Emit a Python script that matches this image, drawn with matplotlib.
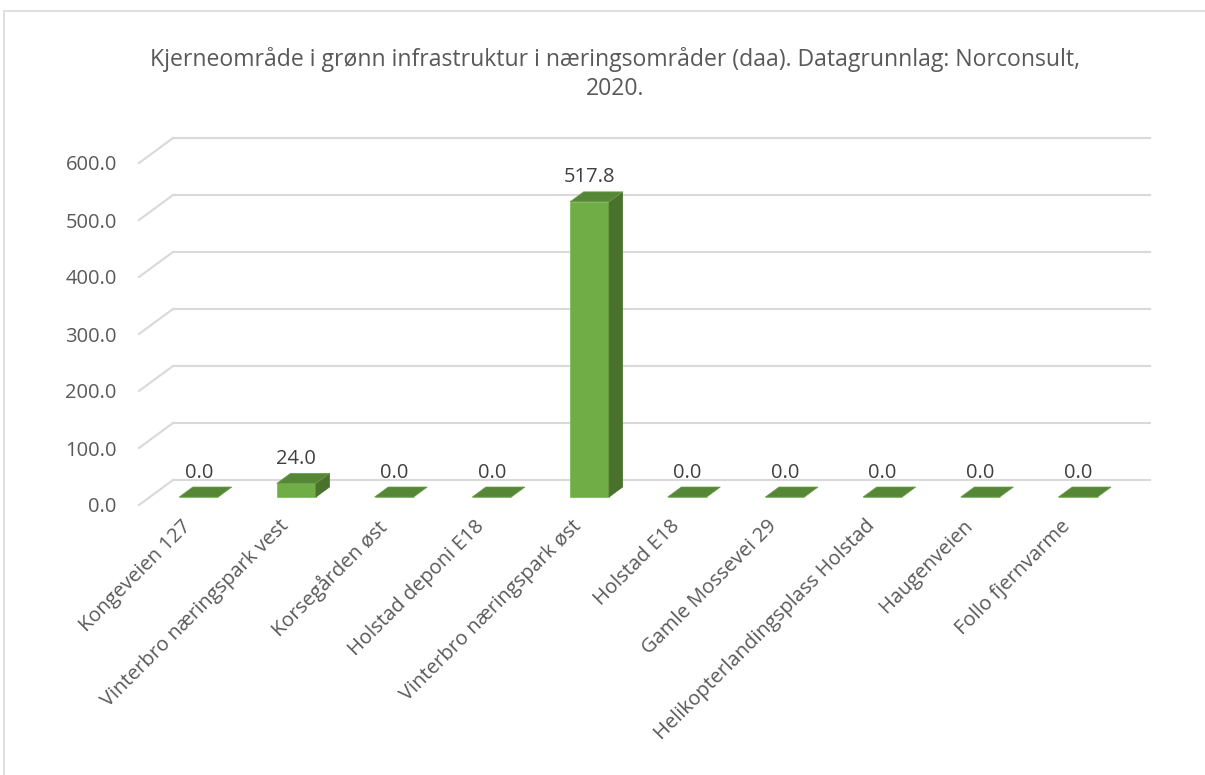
import numpy as np
import matplotlib.pyplot as plt
from matplotlib.patches import Polygon, Rectangle

plt.rcParams['font.family'] = ['Open Sans', 'DejaVu Sans']

categories = ['Kongeveien 127', 'Vinterbro næringspark vest', 'Korsegården øst',
              'Holstad deponi E18', 'Vinterbro næringspark øst', 'Holstad E18',
              'Gamle Mossevei 29', 'Helikopterlandingsplass Holstad', 'Haugenveien',
              'Follo fjernvarme']
values = [0.0, 24.0, 0.0, 0.0, 517.8, 0.0, 0.0, 0.0, 0.0, 0.0]
yticks = [0, 100, 200, 300, 400, 500, 600]
title = 'Kjerneområde i grønn infrastruktur i næringsområder (daa). Datagrunnlag: Norconsult,\n2020.'

W, H = 1205, 775
fig = plt.figure(figsize=(W / 100, H / 100), dpi=100)
# front plane of the 3d box, in pixels
x0, x1, yb, yt = 139, 1116, 505, 163
ax = fig.add_axes([x0 / W, 1 - yb / H, (x1 - x0) / W, (yb - yt) / H])
ax.set_xlim(-0.5, len(values) - 0.5)
ax.set_ylim(0, 600)
for s in ax.spines.values():
    s.set_visible(False)

# depth of the box (full) in data units
DX = 34 / ((x1 - x0) / len(values))
DY = 25 / ((yb - yt) / 600)
d0, d1 = 0.32, 0.72
hw = 0.2

grid = '#D9D9D9'
xl, xr = -0.5, len(values) - 0.5
for t in yticks:
    ax.plot([xl, xl + DX], [t, t + DY], color=grid, lw=1.5, clip_on=False, zorder=1)
    ax.plot([xl + DX, xr + DX], [t + DY, t + DY], color=grid, lw=1.5, clip_on=False, zorder=1)

x = np.arange(len(values))
front = '#70AD47'
side = '#4A722C'
top = '#568737'
ax.bar(x + d0 * DX, values, width=2 * hw, bottom=d0 * DY, color=front,
       edgecolor='#80BC58', linewidth=0.6, zorder=3, clip_on=False)
for i, v in enumerate(values):
    xa = i - hw + d0 * DX
    xb = i + hw + d0 * DX
    xc = i + hw + d1 * DX
    xd = i - hw + d1 * DX
    ya = d0 * DY
    yc = d1 * DY
    if v > 0:
        ax.add_patch(Polygon([(xb, ya), (xc, yc), (xc, yc + v), (xb, ya + v)],
                             closed=True, facecolor=side, edgecolor=side, lw=0.5,
                             zorder=3, clip_on=False))
    ax.add_patch(Polygon([(xa, ya + v), (xb, ya + v), (xc, yc + v), (xd, yc + v)],
                         closed=True, facecolor=top, edgecolor='#6A9E48', lw=0.5,
                         zorder=4, clip_on=False))
    ax.annotate(f'{v:.1f}', (i + d0 * DX, v + 0.52 * DY), xytext=(0, 14),
                textcoords='offset points', ha='center', va='center',
                fontsize=14.5, color='#404040', zorder=5, annotation_clip=False)

ax.set_yticks(yticks)
ax.set_yticklabels([f'{t:.1f}' for t in yticks], fontsize=14.5, color='#595959')
ax.tick_params(axis='y', length=0, pad=16)
ax.set_xticks(x)
ax.set_xticklabels([])
ax.tick_params(axis='x', length=0)
for i, lab in enumerate(categories):
    ax.annotate(lab, (i - 0.07, 0), xytext=(0, -8), textcoords='offset points',
                ha='right', va='top', rotation=45, rotation_mode='anchor',
                fontsize=14.5, color='#595959', annotation_clip=False)

fig.text(615 / W, 1 - 74 / H, title, ha='center', va='center', fontsize=16.6,
         color='#595959', linespacing=1.25)

fig.add_artist(Rectangle((4 / W, -0.05), 1.1, 1 - 11 / H + 0.05, transform=fig.transFigure,
                         fill=False, edgecolor='#D9D9D9', lw=1.2))

fig.savefig('out.png', dpi=100)
